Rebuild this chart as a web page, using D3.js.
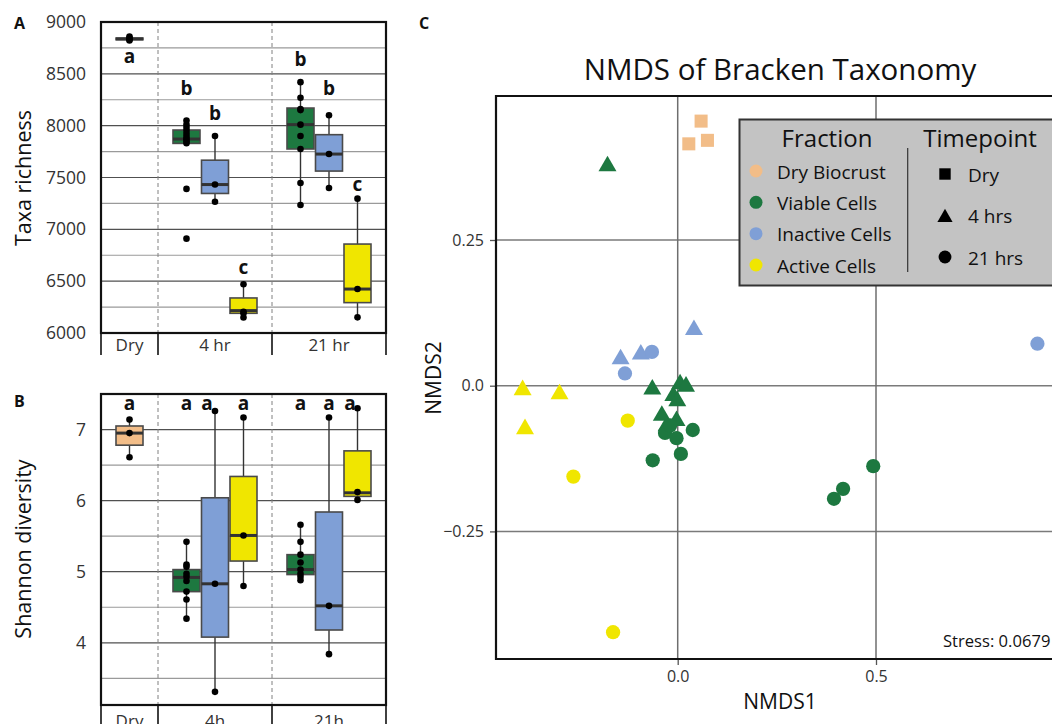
<!DOCTYPE html>
<html>
<head>
<meta charset="utf-8">
<script src="https://cdn.jsdelivr.net/npm/d3@7"></script>
<style>
  body { margin: 0; background: #fff; }
  svg { display: block; }
  text { font-family: "Open Sans", sans-serif; fill: #111; }
</style>
</head>
<body>
<div id="chart"></div>
<script>
// ---------- data ----------
var fractions = ["Dry Biocrust", "Viable Cells", "Inactive Cells", "Active Cells"];
var timepoints = ["Dry", "4 hrs", "21 hrs"];

// box plots (A, B): one entry per box
var groupLabelsA = ["Dry", "4 hr", "21 hr"];
var groupLabelsB = ["Dry", "4h", "21h"];
var boxGroup = [0, 1, 1, 1, 2, 2, 2];
var boxFraction = ["Dry Biocrust", "Viable Cells", "Inactive Cells", "Active Cells",
                   "Viable Cells", "Inactive Cells", "Active Cells"];

// Taxa richness
var richLo  = [8825, 7820, 7266, 6150, 7240, 7400, 6150];
var richQ1  = [8829, 7829, 7346, 6190, 7775, 7562, 6293];
var richMed = [8837, 7871, 7432, 6216, 8010, 7726, 6424];
var richQ3  = [8845, 7958, 7667, 6338, 8170, 7913, 6858];
var richHi  = [8860, 8050, 7900, 6470, 8420, 8100, 7300];
var richPoints = [
  [8860, 8845, 8830, 8822],
  [8050, 8010, 7980, 7950, 7920, 7890, 7870, 7850, 7830, 7390, 6910],
  [7900, 7432, 7266],
  [6470, 6205, 6190, 6150],
  [8420, 8270, 8160, 8150, 8010, 7900, 7775, 7447, 7235],
  [8100, 7726, 7398],
  [7296, 6424, 6151]
];
var richLetters = ["a", "b", "b", "c", "b", "b", "c"];
var richLetterAt = [8601, 8292, 8054, 6566, 8572, 8295, 7366];

// Shannon diversity
var shanLo  = [6.61, 4.34, 3.31, 4.80, 4.88, 3.84, 6.01];
var shanQ1  = [6.78, 4.72, 4.08, 5.15, 4.96, 4.18, 6.06];
var shanMed = [6.95, 4.92, 4.83, 5.51, 5.03, 4.52, 6.11];
var shanQ3  = [7.05, 5.03, 6.04, 6.34, 5.24, 5.84, 6.70];
var shanHi  = [7.14, 5.42, 7.26, 7.17, 5.66, 7.17, 7.30];
var shanPoints = [
  [7.14, 6.95, 6.61],
  [5.42, 5.10, 5.07, 4.97, 4.93, 4.87, 4.72, 4.61, 4.34],
  [7.26, 4.83, 3.31],
  [7.17, 5.51, 4.80],
  [5.66, 5.42, 5.24, 5.13, 5.03, 4.97, 4.93, 4.88],
  [7.17, 4.52, 3.84],
  [7.30, 6.12, 6.01]
];
var shanLetters = ["a", "a", "a", "a", "a", "a", "a"];
var shanLetterAt = [7.28, 7.28, 7.28, 7.28, 7.28, 7.28, 7.28];

// NMDS (C)
var nmdsFraction = [
  "Dry Biocrust", "Dry Biocrust", "Dry Biocrust",
  "Viable Cells", "Viable Cells", "Viable Cells", "Viable Cells", "Viable Cells",
  "Viable Cells", "Viable Cells", "Viable Cells", "Viable Cells",
  "Viable Cells", "Viable Cells", "Viable Cells", "Viable Cells", "Viable Cells",
  "Viable Cells", "Viable Cells", "Viable Cells", "Viable Cells",
  "Inactive Cells", "Inactive Cells", "Inactive Cells",
  "Inactive Cells", "Inactive Cells", "Inactive Cells",
  "Active Cells", "Active Cells", "Active Cells",
  "Active Cells", "Active Cells", "Active Cells"
];
var nmdsTime = [
  "Dry", "Dry", "Dry",
  "4 hrs", "4 hrs", "4 hrs", "4 hrs", "4 hrs", "4 hrs", "4 hrs", "4 hrs", "4 hrs",
  "21 hrs", "21 hrs", "21 hrs", "21 hrs", "21 hrs", "21 hrs", "21 hrs", "21 hrs", "21 hrs",
  "4 hrs", "4 hrs", "4 hrs",
  "21 hrs", "21 hrs", "21 hrs",
  "4 hrs", "4 hrs", "4 hrs",
  "21 hrs", "21 hrs", "21 hrs"
];
var nmds1 = [0.059, 0.028, 0.075,
  -0.177, -0.064, 0.006, 0.021, -0.011, -0.001, -0.040, -0.003, -0.028,
  -0.032, -0.003, 0.038, 0.008, -0.063, 0.493, 0.417, 0.394, -0.019,
  0.041, -0.144, -0.093,
  -0.065, -0.133, 0.907,
  -0.391, -0.298, -0.385,
  -0.126, -0.263, -0.163];
var nmds2 = [0.454, 0.415, 0.421,
  0.381, -0.002, 0.007, 0.003, -0.013, -0.022, -0.047, -0.056, -0.065,
  -0.081, -0.090, -0.076, -0.117, -0.128, -0.138, -0.177, -0.194, -0.068,
  0.100, 0.050, 0.058,
  0.058, 0.021, 0.072,
  -0.003, -0.010, -0.070,
  -0.060, -0.156, -0.423];
var stressValue = 0.0679;

// ---------- styling ----------
var color = d3.scaleOrdinal()
  .domain(fractions)
  .range(["#f2bd88", "#1d7840", "#7f9fd6", "#f0e600"]);
var shapeOf = d3.scaleOrdinal()
  .domain(timepoints)
  .range([d3.symbolSquare, d3.symbolTriangle, d3.symbolCircle]);
var sizeOf = d3.scaleOrdinal()
  .domain(timepoints)
  .range([170, 140, 160]);

var svg = d3.select("#chart").append("svg")
  .attr("width", 1052)
  .attr("height", 724);

// ---------- box plot panels ----------
var slotCount = [2, 4, 4];
var groupStart = [0, 2, 6];
var xSlot = d3.scaleLinear().domain([0, 10]).range([101, 386]);
var boxW = 27;

function slotOf(i) {
  var g = boxGroup[i];
  var members = boxGroup.map(function(d, j) { return d === g ? j : -1; }).filter(function(j) { return j >= 0; });
  var idx = members.indexOf(i);
  return groupStart[g] + slotCount[g] / 2 + (idx - (members.length - 1) / 2);
}

function boxPanel(o) {
  var g = svg.append("g");
  var y = d3.scaleLinear().domain(o.domain).range([o.bottom, o.top]);
  var left = xSlot(0), right = xSlot(10);

  // minor + major gridlines
  g.selectAll(".minor").data(o.minor).enter().append("line")
    .attr("x1", left).attr("x2", right)
    .attr("y1", function(d) { return y(d); }).attr("y2", function(d) { return y(d); })
    .attr("stroke", "#9a9a9a").attr("stroke-width", 1.1);
  g.selectAll(".major").data(o.major).enter().append("line")
    .attr("x1", left).attr("x2", right)
    .attr("y1", function(d) { return y(d); }).attr("y2", function(d) { return y(d); })
    .attr("stroke", "#505050").attr("stroke-width", 1.2);

  // dashed group separators
  g.selectAll(".sep").data([2, 6]).enter().append("line")
    .attr("x1", function(d) { return xSlot(d); }).attr("x2", function(d) { return xSlot(d); })
    .attr("y1", o.top).attr("y2", o.bottom)
    .attr("stroke", "#808080").attr("stroke-width", 1).attr("stroke-dasharray", "4,3");

  // category row
  g.selectAll(".rowline").data([0, 2, 6, 10]).enter().append("line")
    .attr("x1", function(d) { return xSlot(d); }).attr("x2", function(d) { return xSlot(d); })
    .attr("y1", o.bottom).attr("y2", o.bottom + o.rowH)
    .attr("stroke", "#111").attr("stroke-width", 1.6);
  g.selectAll(".cat").data(o.cats).enter().append("text")
    .attr("x", function(d, i) { return xSlot(groupStart[i] + slotCount[i] / 2); })
    .attr("y", o.catY)
    .attr("text-anchor", "middle")
    .style("font-size", "17px")
    .style("fill", "#333")
    .text(function(d) { return d; });

  // y axis labels
  var axis = d3.axisLeft(y).tickValues(o.major).tickSize(0).tickPadding(15)
    .tickFormat(o.fmt);
  var ax = g.append("g").attr("transform", "translate(" + left + ",0)").call(axis);
  ax.select(".domain").remove();
  ax.selectAll("text").style("font-size", "17.5px").style("fill", "#333")
    .style("font-family", "'Open Sans', sans-serif");

  // boxes
  var idx = d3.range(o.q1.length);
  var b = g.selectAll(".box").data(idx).enter().append("g");
  b.append("line")
    .attr("x1", function(i) { return xSlot(slotOf(i)); })
    .attr("x2", function(i) { return xSlot(slotOf(i)); })
    .attr("y1", function(i) { return y(o.lo[i]); })
    .attr("y2", function(i) { return y(o.hi[i]); })
    .attr("stroke", "#333").attr("stroke-width", 1.4);
  b.append("rect")
    .attr("x", function(i) { return xSlot(slotOf(i)) - boxW / 2; })
    .attr("width", boxW)
    .attr("y", function(i) { return y(o.q3[i]); })
    .attr("height", function(i) { return Math.max(1, y(o.q1[i]) - y(o.q3[i])); })
    .attr("fill", function(i) { return color(boxFraction[i]); })
    .attr("stroke", "#4a4a4a").attr("stroke-width", 1.6);
  b.append("line")
    .attr("x1", function(i) { return xSlot(slotOf(i)) - boxW / 2; })
    .attr("x2", function(i) { return xSlot(slotOf(i)) + boxW / 2; })
    .attr("y1", function(i) { return y(o.med[i]); })
    .attr("y2", function(i) { return y(o.med[i]); })
    .attr("stroke", "#333").attr("stroke-width", 3);
  b.selectAll("circle")
    .data(function(i) { return o.points[i].map(function(v) { return {i: i, v: v}; }); })
    .enter().append("circle")
    .attr("cx", function(d) { return xSlot(slotOf(d.i)); })
    .attr("cy", function(d) { return y(d.v); })
    .attr("r", 3.3)
    .attr("fill", "#000");

  // significance letters
  g.selectAll(".letter").data(idx).enter().append("text")
    .attr("x", function(i) { return xSlot(slotOf(i)) + o.nudge[i]; })
    .attr("y", function(i) { return y(o.letterAt[i]); })
    .attr("text-anchor", "middle")
    .style("font-size", "19px")
    .style("font-weight", "bold")
    .text(function(i) { return o.letters[i]; });

  // plot frame
  g.append("rect")
    .attr("x", left).attr("y", o.top)
    .attr("width", right - left).attr("height", o.bottom - o.top)
    .attr("fill", "none").attr("stroke", "#111").attr("stroke-width", 2.2);

  // y title
  g.append("text")
    .attr("transform", "translate(" + 31 + "," + o.titleY + ") rotate(-90)")
    .attr("text-anchor", "middle")
    .style("font-size", "21.5px")
    .text(o.title);

  // panel letter
  g.append("text")
    .attr("x", 14).attr("y", o.letterY)
    .style("font-size", "16px").style("font-weight", "bold")
    .text(o.panel);
}

boxPanel({
  panel: "A", letterY: 29,
  domain: [6000, 9000], top: 22, bottom: 333, rowH: 22, catY: 351,
  major: d3.range(6000, 9001, 500),
  minor: d3.range(6250, 9000, 500),
  fmt: d3.format("d"),
  lo: richLo, q1: richQ1, med: richMed, q3: richQ3, hi: richHi, points: richPoints,
  letters: richLetters, letterAt: richLetterAt, nudge: [0, 0, 0, 0, 0, 0, 0],
  cats: groupLabelsA, title: "Taxa richness", titleY: 178
});

boxPanel({
  panel: "B", letterY: 407,
  domain: [3.125, 7.5], top: 394, bottom: 705, rowH: 30, catY: 727,
  major: [4, 5, 6, 7],
  minor: [3.5, 4.5, 5.5, 6.5],
  fmt: d3.format("d"),
  lo: shanLo, q1: shanQ1, med: shanMed, q3: shanQ3, hi: shanHi, points: shanPoints,
  letters: shanLetters, letterAt: shanLetterAt, nudge: [0, 0, -8, 0, 0, 0, -7.5],
  cats: groupLabelsB, title: "Shannon diversity", titleY: 549
});

// ---------- NMDS panel ----------
var cg = svg.append("g");
var xC = d3.scaleLinear().domain([0, 0.5]).range([677.7, 876]);
var yC = d3.scaleLinear().domain([0, 0.25]).range([385.7, 240]);
var cLeft = 496, cTop = 96, cBottom = 659, cRight = 1070;

cg.selectAll(".hgrid").data([-0.25, 0, 0.25]).enter().append("line")
  .attr("x1", cLeft).attr("x2", cRight)
  .attr("y1", function(d) { return yC(d); }).attr("y2", function(d) { return yC(d); })
  .attr("stroke", "#7a7a7a").attr("stroke-width", 1.5);
cg.selectAll(".vgrid").data([0, 0.5]).enter().append("line")
  .attr("x1", function(d) { return xC(d); }).attr("x2", function(d) { return xC(d); })
  .attr("y1", cTop).attr("y2", cBottom)
  .attr("stroke", "#6e6e6e").attr("stroke-width", 1.5);

var yAxisC = cg.append("g").attr("transform", "translate(" + cLeft + ",0)")
  .call(d3.axisLeft(yC).tickValues([-0.25, 0, 0.25]).tickSize(6).tickPadding(6)
    .tickFormat(function(d) { return d === 0 ? "0.0" : d3.format(".2f")(d); }));
var xAxisC = cg.append("g").attr("transform", "translate(0," + cBottom + ")")
  .call(d3.axisBottom(xC).tickValues([0, 0.5, 1.0]).tickSize(6).tickPadding(6)
    .tickFormat(d3.format(".1f")));
[yAxisC, xAxisC].forEach(function(a) {
  a.select(".domain").remove();
  a.selectAll("line").attr("stroke", "#555").attr("stroke-width", 1.3);
  a.selectAll("text").style("font-size", "16px").style("fill", "#333")
    .style("font-family", "'Open Sans', sans-serif");
});

// points
cg.selectAll(".pt").data(d3.range(nmds1.length)).enter().append("path")
  .attr("transform", function(i) {
    var dy = nmdsTime[i] === "4 hrs" ? 2.5 : 0;
    return "translate(" + xC(nmds1[i]) + "," + (yC(nmds2[i]) + dy) + ")";
  })
  .attr("d", function(i) { return d3.symbol(shapeOf(nmdsTime[i]), sizeOf(nmdsTime[i]))(); })
  .attr("fill", function(i) { return color(nmdsFraction[i]); });

// frame (left, top, bottom)
cg.append("path")
  .attr("d", "M" + cRight + "," + cTop + "H" + cLeft + "V" + cBottom + "H" + cRight)
  .attr("fill", "none").attr("stroke", "#111").attr("stroke-width", 2.2);

// legend
var lg = cg.append("g");
lg.append("rect")
  .attr("x", 739.5).attr("y", 119.5).attr("width", 330).attr("height", 166)
  .attr("fill", "#c3c3c3").attr("stroke", "#333").attr("stroke-width", 2);
lg.append("text").attr("x", 827).attr("y", 147).attr("text-anchor", "middle")
  .style("font-size", "24px").text("Fraction");
lg.append("text").attr("x", 980).attr("y", 147).attr("text-anchor", "middle")
  .style("font-size", "24px").text("Timepoint");
lg.append("line").attr("x1", 907.7).attr("x2", 907.7).attr("y1", 148).attr("y2", 272)
  .attr("stroke", "#333").attr("stroke-width", 1.2);
var legY = d3.scalePoint().domain(fractions).range([171, 265]);
lg.selectAll(".fr").data(fractions).enter().append("circle")
  .attr("cx", 756).attr("cy", function(d) { return legY(d); }).attr("r", 6.5)
  .attr("fill", function(d) { return color(d); });
lg.selectAll(".frt").data(fractions).enter().append("text")
  .attr("x", 777).attr("y", function(d) { return legY(d) + 7.5; })
  .style("font-size", "19px").text(function(d) { return d; });
var legT = d3.scalePoint().domain(timepoints).range([174, 257]);
lg.selectAll(".tp").data(timepoints).enter().append("path")
  .attr("transform", function(d) { return "translate(945," + (legT(d) + (d === "4 hrs" ? 2 : 0)) + ")"; })
  .attr("d", function(d) { return d3.symbol(shapeOf(d), d === "Dry" ? 130 : d === "4 hrs" ? 100 : 130)(); })
  .attr("fill", "#000");
lg.selectAll(".tpt").data(timepoints).enter().append("text")
  .attr("x", 968).attr("y", function(d) { return legT(d) + 7.5; })
  .style("font-size", "19px").text(function(d) { return d; });

// texts
cg.append("text").attr("x", 943).attr("y", 647)
  .style("font-size", "16.6px").text("Stress: " + stressValue);
cg.append("text").attr("x", 780).attr("y", 80).attr("text-anchor", "middle")
  .style("font-size", "29.5px").text("NMDS of Bracken Taxonomy");
cg.append("text").attr("x", 780).attr("y", 709).attr("text-anchor", "middle")
  .style("font-size", "21px").text("NMDS1");
cg.append("text")
  .attr("transform", "translate(441,378) rotate(-90)")
  .attr("text-anchor", "middle")
  .style("font-size", "21px").text("NMDS2");
cg.append("text").attr("x", 419).attr("y", 29)
  .style("font-size", "16px").style("font-weight", "bold").text("C");
</script>
</body>
</html>
